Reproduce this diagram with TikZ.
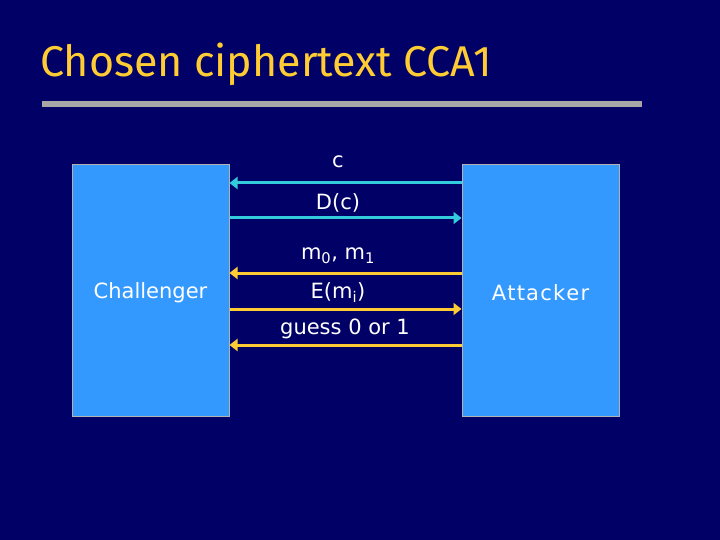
\documentclass[tikz,border=0pt]{standalone}
\usepackage{fontspec}
\setmainfont{DejaVu Sans}
\newfontfamily\titlefont{Fira Sans}
\usetikzlibrary{arrows.meta}
\definecolor{slidebg}{RGB}{0,0,102}
\definecolor{boxblue}{RGB}{51,153,255}
\definecolor{titleyel}{RGB}{255,204,51}
\definecolor{msgcyan}{RGB}{51,204,221}
\definecolor{msgyel}{RGB}{255,204,51}

\begin{document}
\begin{tikzpicture}[x=1pt,y=-1pt,
    party/.style={rectangle,draw=gray!60,line width=1pt,fill=boxblue,
      minimum width=157pt,minimum height=251pt,inner sep=0pt},
    partytext/.style={text=white,inner sep=0pt,font=\fontsize{21}{24}\selectfont},
    msg/.style={line width=3pt,-{Triangle[length=8pt,width=12pt]}},
    lbl/.style={text=white,inner sep=0pt,font=\fontsize{21}{24}\selectfont}]

    % Slide background
    \fill[slidebg] (0,0) rectangle (720,540);

    % Title and rule
    \node[anchor=base west,inner sep=0pt,text=titleyel,
      font=\titlefont\fontsize{43}{46}\selectfont] (title) at (40,77)
      {Chosen ciphertext CCA1};
    \fill[gray!70] (42,101) rectangle (642,107);

    % Parties
    \node[party] (chal) at (150.5,290.5) {};
    \node[party] (att) at (540.5,290.5) {};
    \node[partytext] (chaltxt) at (150.5,292.5) {Challenger};
    \node[partytext] (atttxt) at (540.5,292.5)
      {A\kern1.2pt t\kern1.2pt t\kern1.2pt a\kern1.2pt c\kern1.2pt k\kern1.2pt e\kern1.2pt r};

    % End points of the messages
    \foreach \i/\y in {1/183,2/218,3/273,4/309,5/345} {
      \coordinate (l\i) at (chal.east |- 0,\y);
      \coordinate (r\i) at (att.west |- 0,\y);
    }

    % Messages
    \draw[msg,msgcyan] (r1) -- (l1);
    \draw[msg,msgcyan] (l2) -- (r2);
    \draw[msg,msgyel] (r3) -- (l3);
    \draw[msg,msgyel] (l4) -- (r4);
    \draw[msg,msgyel] (r5) -- (l5);

    % Labels
    \node[lbl] (t1) at (338,162) {c};
    \node[lbl] (t2) at (338,203) {D(c)};
    \node[lbl] (t3) at (338,256) {m\textsubscript{0}, m\textsubscript{1}};
    \node[lbl] (t4) at (338,293) {E(m\textsubscript{i})};
    \node[lbl] (t5) at (345,329) {guess 0 or 1};

  \end{tikzpicture}
\end{document}
